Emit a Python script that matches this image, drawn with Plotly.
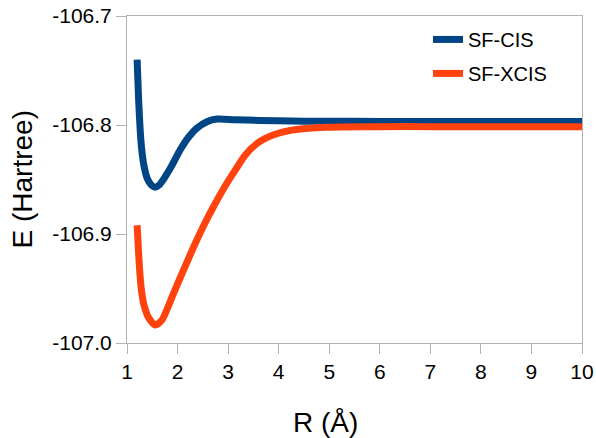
import plotly.graph_objects as go

# Data
r_cis = [1.20, 1.23, 1.26, 1.29, 1.33, 1.40, 1.48, 1.56, 1.64, 1.72, 1.89, 2.05, 2.22,
         2.38, 2.58, 2.78, 3.14, 4.0, 5.0, 6.0, 7.0, 8.0, 9.0, 10.0]
e_cis = [-106.740, -106.777, -106.804, -106.822, -106.836, -106.849, -106.855, -106.857,
         -106.855, -106.850, -106.837, -106.823, -106.811, -106.803, -106.797, -106.7945,
         -106.7952, -106.7962, -106.7966, -106.7967, -106.7967, -106.7967, -106.7967,
         -106.7967]

r_xcis = [1.20, 1.23, 1.26, 1.29, 1.33, 1.43, 1.56, 1.69, 1.82, 1.92, 2.12, 2.32, 2.52,
          2.71, 2.98, 3.14, 3.34, 3.60, 3.93, 4.26, 4.59, 4.92, 5.25, 6.0, 7.0, 8.0,
          9.0, 10.0]
e_xcis = [-106.892, -106.918, -106.939, -106.953, -106.964, -106.977, -106.9835, -106.979,
          -106.966, -106.9544, -106.933, -106.9117, -106.892, -106.875, -106.853,
          -106.8415, -106.8275, -106.8160, -106.8085, -106.8047, -106.8030, -106.8021,
          -106.8018, -106.8015, -106.8015, -106.8015, -106.8015, -106.8015]

series_names = ["SF-CIS", "SF-XCIS"]
x_ticks = [1, 2, 3, 4, 5, 6, 7, 8, 9, 10]
y_ticks = [-107.0, -106.9, -106.8, -106.7]
y_tick_labels = ["-107.0", "-106.9", "-106.8", "-106.7"]

FONT = "Liberation Sans, Arial, sans-serif"
GRID = "#b3b3b3"

fig = go.Figure()
fig.add_trace(go.Scatter(x=r_cis, y=e_cis, mode="lines", name=series_names[0],
                         legendgroup="g1",
                         line=dict(color="#004586", width=7, shape="spline", smoothing=0.7)))
fig.add_trace(go.Scatter(x=r_xcis, y=e_xcis, mode="lines", name=series_names[1],
                         legendgroup="g2",
                         line=dict(color="#ff420e", width=7, shape="spline", smoothing=0.7)))

axis_common = dict(showline=True, linecolor=GRID, linewidth=1, mirror=True,
                   ticks="outside", ticklen=10, tickcolor=GRID, tickwidth=1,
                   showgrid=False, zeroline=False, automargin=False,
                   tickfont=dict(family=FONT, size=21, color="black"))

fig.update_layout(
    width=596, height=438,
    margin=dict(l=127, r=14, t=16, b=95, autoexpand=False),
    paper_bgcolor="white", plot_bgcolor="white",
    font=dict(family=FONT, color="black"),
    xaxis=dict(range=[1, 10], tickvals=x_ticks, **axis_common),
    yaxis=dict(range=[-107.0, -106.7], tickvals=y_ticks, ticktext=y_tick_labels,
               **axis_common),
    showlegend=True,
    legend=dict(x=0.6615, y=0.988, xanchor="left", yanchor="top",
                font=dict(family=FONT, size=20, color="black"),
                bgcolor="rgba(0,0,0,0)", tracegroupgap=5, traceorder="grouped"),
    annotations=[
        dict(text="R (Å)", xref="paper", yref="paper", x=(325 - 127) / 455, y=-0.243,
             xanchor="center", yanchor="middle", showarrow=False,
             font=dict(family=FONT, size=28, color="black")),
        dict(text="E (Hartree)", xref="paper", yref="paper", x=(22 - 127) / 455, y=0.5,
             xanchor="center", yanchor="middle", showarrow=False, textangle=-90,
             font=dict(family=FONT, size=28, color="black")),
    ],
)

fig.write_html("out.html")
